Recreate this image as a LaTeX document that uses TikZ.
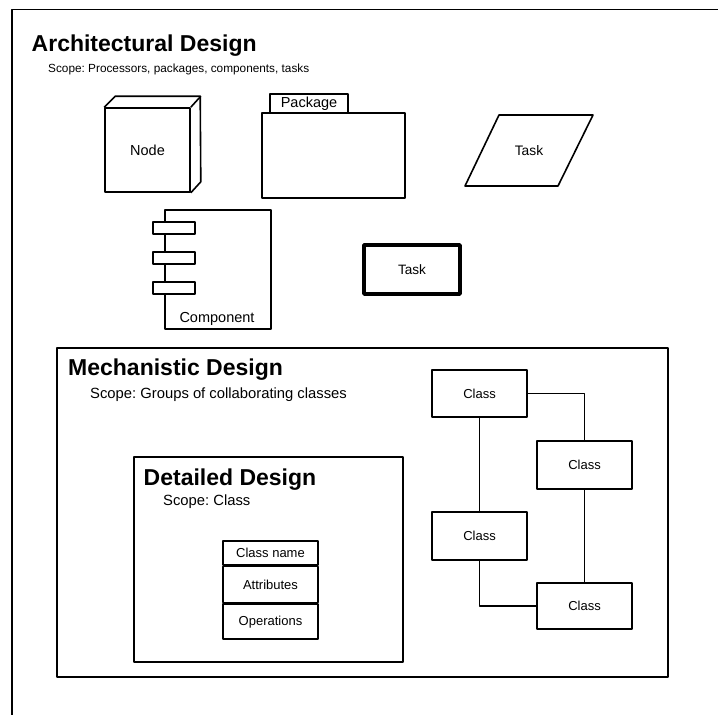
\documentclass[tikz,border=0pt]{standalone}
\usepackage{fontspec}
\setmainfont{Liberation Sans}
\usetikzlibrary{calc}
\frenchspacing

\tikzset{
  ln/.style={line width=1.6pt, line join=round},
  box/.style={ln, draw, fill=white, rectangle, inner sep=0pt, align=center},
  heading/.style={anchor=base west, inner sep=0pt, font=\fontsize{23}{27}\selectfont\bfseries},
  scopebig/.style={anchor=base west, inner sep=0pt, font=\fontsize{14.8}{17}\selectfont},
  scopesmall/.style={anchor=base west, inner sep=0pt, font=\fontsize{11.8}{14}\selectfont},
  lbl/.style={inner sep=0pt, font=\fontsize{14.5}{17}\selectfont},
  clbl/.style={font=\fontsize{13}{15}\selectfont},
  frame/.style={line width=1.8pt, line join=round},
  link/.style={ln}
}

\begin{document}
\begin{tikzpicture}[x=1pt, y=-1pt]
\useasboundingbox (0,0) rectangle (718,715);

% outer frame (continues past the page on the right and bottom)
\coordinate (fbl) at (12,718);
\coordinate (ftl) at (12,9.5);
\coordinate (ftr) at (720,9.5);
\draw[frame] (fbl) -- (ftl) -- (ftr);

\node[heading] (archT) at (31.5,51.5) {Architectural Design};
\node[scopesmall] (archS) at (48,72.5) {Scope: Processors, packages, components, tasks};

% processor node drawn as a cube
\node[box, minimum width=85pt, minimum height=84pt, lbl] (cube) at (147.5,150) {Node};
\draw[ln] (cube.north west) -- ++(11,-11) -- ++(85,0) -- ($(cube.south east)+(10,-11)$) -- (cube.south east);
\draw[ln] (cube.north east) -- ++(10,-11);

% package with tab
\node[box, minimum width=78pt, minimum height=19pt, lbl] (pkgtab) at (309,103.5) {Package};
\node[box, minimum width=143pt, minimum height=85pt] (pkg) at (333.5,155.5) {};

% task as a parallelogram
\coordinate (pa) at (499,115);
\coordinate (pb) at (593,115);
\coordinate (pc) at (558,186);
\coordinate (pd) at (465,186);
\draw[ln] (pa) -- (pb) -- (pc) -- (pd) -- cycle;
\node[lbl, font=\fontsize{13.8}{16}\selectfont] (taskP) at (529,150.5) {Task};

% component with its three interface tabs
\node[box, minimum width=106pt, minimum height=119pt] (comp) at (218,269.5) {};
\node[box, minimum width=42pt, minimum height=12pt] (ct1) at (174,228) {};
\node[box, minimum width=42pt, minimum height=12pt] (ct2) at (174,258) {};
\node[box, minimum width=42pt, minimum height=12pt] (ct3) at (174,288) {};
\node[lbl, anchor=base] (compL) at (217,322) {Component};

% active task (thick border)
\node[box, line width=3.8pt, minimum width=96pt, minimum height=49pt, lbl, font=\fontsize{13.6}{16}\selectfont] (taskB) at (412,269.5) {Task};

% mechanistic design frame
\draw[frame] (57,348) rectangle (668,677);
\node[heading] (mechT) at (68,375) {Mechanistic Design};
\node[scopebig] (mechS) at (90,398) {Scope: Groups of collaborating classes};

% detailed design frame
\draw[frame] (134,457) rectangle (403,662);
\node[heading] (detT) at (143.5,485) {Detailed Design};
\node[scopebig] (detS) at (163,505) {Scope: Class};

% class with compartments
\node[box, minimum width=95pt, minimum height=24pt, clbl] (cname) at (270.5,553) {Class name};
\node[box, minimum width=95pt, minimum height=36pt, clbl, anchor=north] (cattr) at (cname.south) {Attributes};
\node[box, minimum width=95pt, minimum height=35pt, clbl, anchor=north] (cops) at (cattr.south) {Operations};

% collaborating classes
\node[box, minimum width=95pt, minimum height=47pt, clbl] (c1) at (479.5,393.5) {Class};
\node[box, minimum width=95pt, minimum height=48pt, clbl] (c2) at (584.5,465) {Class};
\node[box, minimum width=95pt, minimum height=48pt, clbl] (c3) at (479.5,536) {Class};
\node[box, minimum width=95pt, minimum height=46pt, clbl] (c4) at (584.5,606) {Class};

\draw[link] (c1.east) -| (c2.north);
\draw[link] (c1.south) -- (c3.north);
\draw[link] (c2.south) -- (c4.north);
\draw[link] (c3.south) |- (c4.west);
\end{tikzpicture}
\end{document}
